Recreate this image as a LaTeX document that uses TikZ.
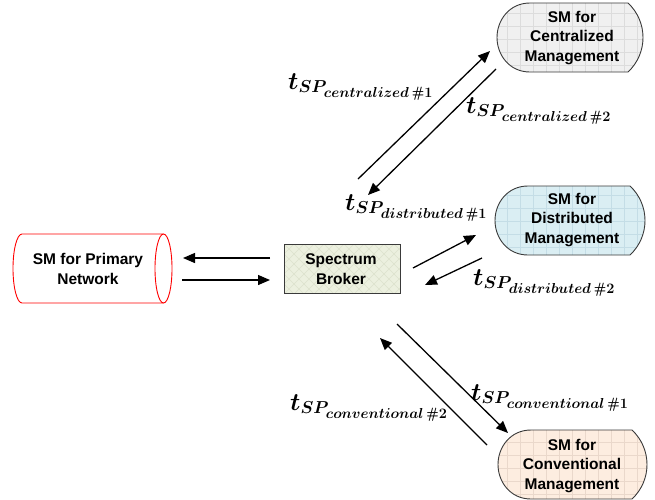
\documentclass[tikz,border=0pt]{standalone}
\usepackage{amsmath}
\usepackage{bm}
\usepackage{fontspec}
\newfontfamily\arialfont{Liberation Sans}
\usetikzlibrary{arrows.meta}
\DeclareMathSizes{23}{23}{16.5}{15}
\definecolor{cenfill}{HTML}{F0F0F0}
\definecolor{cengrid}{HTML}{DCDCDC}
\definecolor{disfill}{HTML}{DAEEF3}
\definecolor{disgrid}{HTML}{C4DDE6}
\definecolor{convfill}{HTML}{FDEDE0}
\definecolor{convgrid}{HTML}{EAD8CB}
\definecolor{brokfill}{HTML}{ECF0DF}
\definecolor{brokhatch}{HTML}{DDE2CD}
\definecolor{dispedge}{HTML}{3A3A3A}
\newcommand\dispshape[6]{%
  \pgfmathsetmacro\dsLa{#1+33}\pgfmathsetmacro\dsLc{#1+12}%
  \pgfmathsetmacro\dsRb{#2-15}\pgfmathsetmacro\dsRc{#2+5}%
  \pgfmathsetmacro\dsM{(#3+#4)/2}%
  \pgfmathsetmacro\dsMt{#3+18.7}\pgfmathsetmacro\dsMb{#4-18.7}%
  \pgfmathsetmacro\dsMT{\dsM-17}\pgfmathsetmacro\dsMB{\dsM+17}%
  \begin{scope}
    \fill[#5] (\dsLa,#3) -- (\dsRb,#3) .. controls (\dsRc,\dsMt) and (\dsRc,\dsMb) .. (\dsRb,#4) -- (\dsLa,#4) .. controls (\dsLc,#4) and (#1,\dsMB) .. (#1,\dsM) .. controls (#1,\dsMT) and (\dsLc,#3) .. (\dsLa,#3) -- cycle;
    \clip (\dsLa,#3) -- (\dsRb,#3) .. controls (\dsRc,\dsMt) and (\dsRc,\dsMb) .. (\dsRb,#4) -- (\dsLa,#4) .. controls (\dsLc,#4) and (#1,\dsMB) .. (#1,\dsM) .. controls (#1,\dsMT) and (\dsLc,#3) .. (\dsLa,#3) -- cycle;
    \draw[#6, line width=0.5pt, step=13pt] (#1,#3) grid (#2,#4);
  \end{scope}
  \draw[dispborder] (\dsLa,#3) -- (\dsRb,#3) .. controls (\dsRc,\dsMt) and (\dsRc,\dsMb) .. (\dsRb,#4) -- (\dsLa,#4) .. controls (\dsLc,#4) and (#1,\dsMB) .. (#1,\dsM) .. controls (#1,\dsMT) and (\dsLc,#3) .. (\dsLa,#3) -- cycle;
}
\newcommand\tsplabel[2]{$\bm{t_{SP_{#1\,\##2}}}$}
\begin{document}
\begin{tikzpicture}[x=1pt,y=-1pt,
  txt/.style={font=\arialfont\bfseries\fontsize{15.5}{19.5}\selectfont, align=center, inner sep=0pt},
  lab/.style={font=\fontsize{23}{26}\selectfont, inner sep=0pt, anchor=base west},
  dispborder/.style={draw=dispedge, line width=0.9pt},
  cyl/.style={draw=red, line width=0.9pt},
  arr/.style={line width=1.3pt, -{Triangle[length=12pt,width=10pt]}},
  hatch/.style={brokhatch, line width=0.5pt}]
\useasboundingbox (0,0) rectangle (655,499);
% primary network cylinder
\fill[white] (13,234) rectangle (172,303);
\draw[cyl] (163.5,234) -- (22,234) .. controls (17,234) and (13,249.5) .. (13,268.5) .. controls (13,287.5) and (17,303) .. (22,303) -- (163.5,303);
\draw[cyl] (163.5,268.5) ellipse[x radius=8.5, y radius=34.5];
\node[txt] (pn) at (88,269) {SM for Primary\\Network};
% spectrum broker
\fill[brokfill] (284,244) rectangle (400,293);
\begin{scope}
  \clip (284,244) rectangle (400,293);
  \foreach \i in {-60,-50,...,180} {
    \draw[hatch] (284+\i,244) -- ++(49,49);
    \draw[hatch] (284+\i,244) -- ++(-49,49);
  }
\end{scope}
\node[draw=dispedge, line width=0.9pt, minimum width=116pt, minimum height=49pt, inner sep=0pt] (sb) at (342,268.5) {};
\node[txt] (sbt) at (341,269) {Spectrum\\Broker};
% display shapes
\dispshape{497}{643}{3}{72}{cenfill}{cengrid}
\node[txt] (cm) at (572,38) {SM for\\Centralized\\Management};
\dispshape{495}{645}{186}{255}{disfill}{disgrid}
\node[txt] (dm) at (572,220) {SM for\\Distributed\\Management};
\dispshape{498}{647}{430}{499}{convfill}{convgrid}
\node[txt] (vm) at (572,466) {SM for\\Conventional\\Management};
% arrow end points
\coordinate (p1s) at (270,258); \coordinate (p1e) at (183,258);
\coordinate (p2s) at (182,280); \coordinate (p2e) at (270,280);
\coordinate (c1s) at (358,179); \coordinate (c1e) at (490,51);
\coordinate (c2s) at (496,69);  \coordinate (c2e) at (368,195);
\coordinate (d1s) at (413,268); \coordinate (d1e) at (476,235);
\coordinate (d2s) at (482,258); \coordinate (d2e) at (425,285);
\coordinate (k1s) at (397,324); \coordinate (k1e) at (508,433);
\coordinate (k2s) at (487,445); \coordinate (k2e) at (380,338);
\draw[arr] (p1s) -- (p1e);
\draw[arr] (p2s) -- (p2e);
\draw[arr] (c1s) -- (c1e);
\draw[arr] (c2s) -- (c2e);
\draw[arr] (d1s) -- (d1e);
\draw[arr] (d2s) -- (d2e);
\draw[arr] (k1s) -- (k1e);
\draw[arr] (k2s) -- (k2e);
% labels
\node[lab] (lc1) at (288,89) {\tsplabel{centralized}{1}};
\node[lab] (lc2) at (466,113) {\tsplabel{centralized}{2}};
\node[lab] (ld1) at (345,210) {\tsplabel{distributed}{1}};
\node[lab] (ld2) at (473,285) {\tsplabel{distributed}{2}};
\node[lab] (lk1) at (471,400) {\tsplabel{conventional}{1}};
\node[lab] (lk2) at (290,410) {\tsplabel{conventional}{2}};
\end{tikzpicture}
\end{document}
